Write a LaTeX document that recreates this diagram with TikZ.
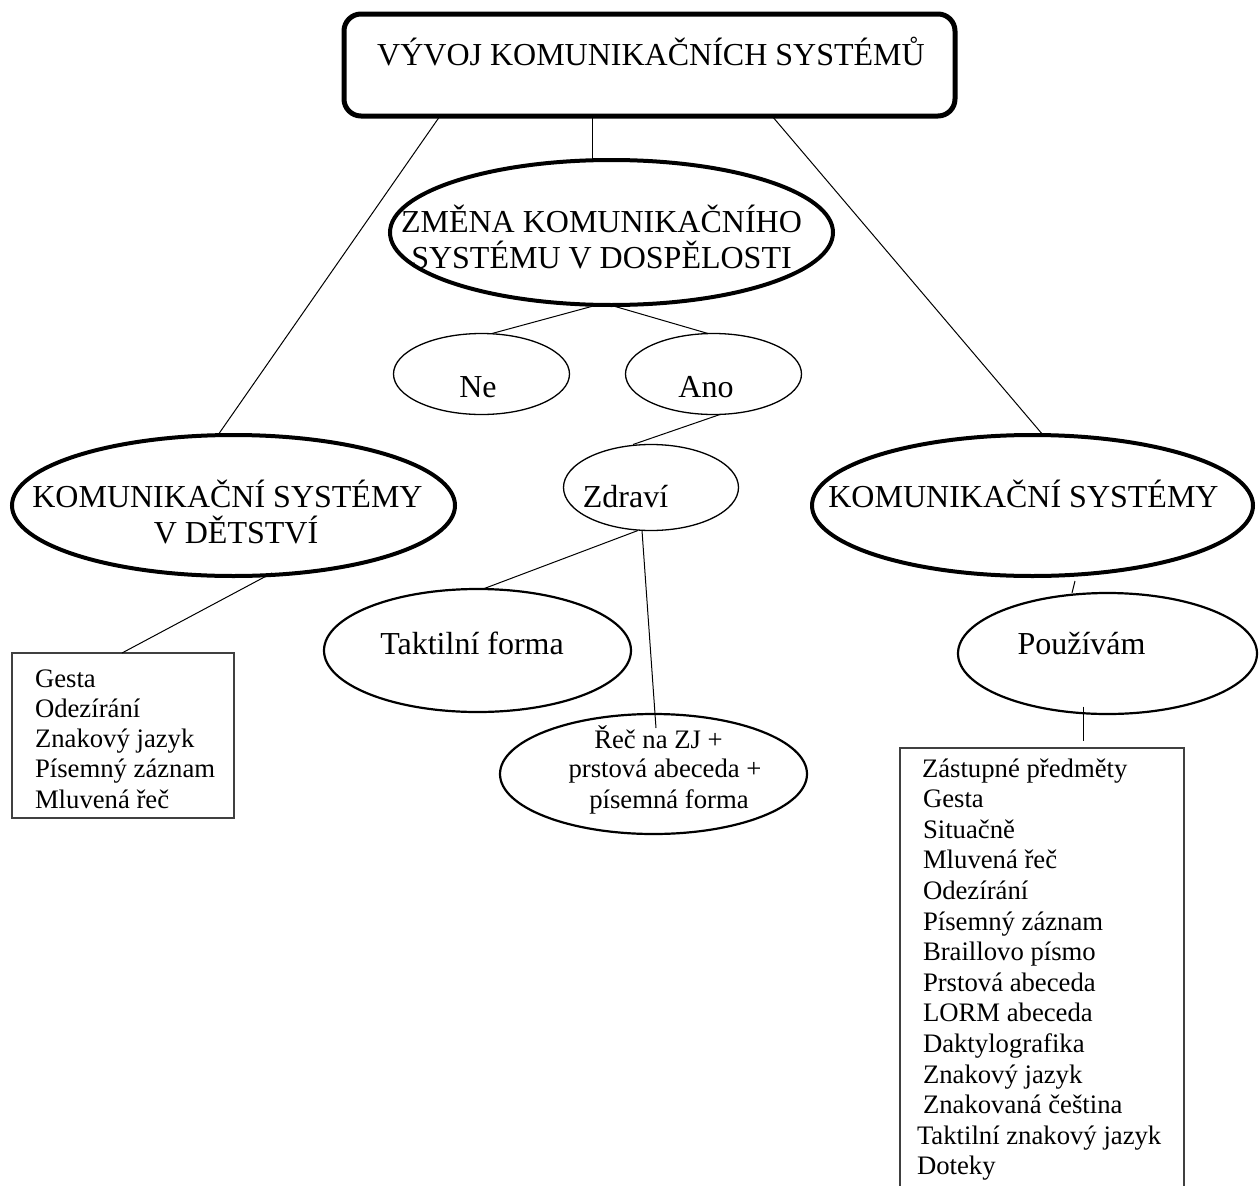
\documentclass[tikz,border=0pt]{standalone}
\usepackage{fontspec}
\setmainfont{Liberation Serif}
\usetikzlibrary{shapes.geometric}

\tikzset{
  every node/.style={outer sep=0pt},
  conn/.style={line width=1pt, black},
  titlebox/.style={draw, line width=5pt, rounded corners=17pt, inner sep=0pt},
  bigell/.style={ellipse, draw, line width=4pt, inner sep=0pt},
  midell/.style={ellipse, draw, line width=2.2pt, inner sep=0pt},
  smallell/.style={ellipse, draw, line width=1.3pt, inner sep=0pt},
  bigtxt/.style={font=\fontsize{32}{36}\selectfont, anchor=base, inner sep=0pt},
  smalltxt/.style={font=\fontsize{26.7}{30.5}\selectfont, anchor=base, inner sep=0pt},
  listbox/.style={draw=black!75, line width=1.3pt, anchor=north west, inner sep=0pt},
  listtxt/.style={font=\fontsize{26.7}{30.5}\selectfont, anchor=base west, inner sep=0pt}
}

\begin{document}
\begin{tikzpicture}[x=1pt, y=-1pt]
\useasboundingbox (0,0) rectangle (1259,1186);
\clip (0,0) rectangle (1259,1186);

% title
\node[titlebox, minimum width=611pt, minimum height=102pt] (top) at (649.5,65) {};
\node[bigtxt] (toptxt) at (651,65) {VÝVOJ KOMUNIKAČNÍCH SYSTÉMŮ};

% change of the communication system in adulthood
\node[bigell, minimum width=443pt, minimum height=145pt] (zm) at (611.5,232.5) {};
\node[bigtxt] (zmtxta) at (601.5,232) {ZMĚNA KOMUNIKAČNÍHO};
\node[bigtxt] (zmtxtb) at (601.5,268) {SYSTÉMU V DOSPĚLOSTI};

\node[smallell, minimum width=176pt, minimum height=81pt] (ne) at (481.5,374) {};
\node[bigtxt] (netxt) at (478,397) {Ne};
\node[smallell, minimum width=176pt, minimum height=81pt] (ano) at (713.5,374) {};
\node[bigtxt] (anotxt) at (706,397) {Ano};

\node[smallell, minimum width=175pt, minimum height=86pt] (zd) at (651,487.5) {};
\node[bigtxt] (zdtxt) at (625.5,507) {Zdraví};

\node[midell, minimum width=307pt, minimum height=123pt] (tf) at (477.5,650.5) {};
\node[bigtxt] (tftxt) at (472,654) {Taktilní forma};

\node[midell, minimum width=307pt, minimum height=120pt] (rec) at (653.5,774) {};
\node[smalltxt] (rectxta) at (658.5,748) {Řeč na ZJ +};
\node[smalltxt] (rectxtb) at (665,777) {prstová abeceda +};
\node[smalltxt] (rectxtc) at (669,808) {písemná forma};

% childhood
\node[bigell, minimum width=443pt, minimum height=141pt] (kl) at (233.5,505.5) {};
\node[bigtxt] (kltxta) at (227.5,507) {KOMUNIKAČNÍ SYSTÉMY};
\node[bigtxt] (kltxtb) at (236,543) {V DĚTSTVÍ};

\node[listbox, minimum width=222pt, minimum height=165pt] (lb) at (12,653) {};
\foreach \t [count=\i from 0] in {Gesta, Odezírání, Znakový jazyk, Písemný záznam, Mluvená řeč}
  \node[listtxt] (lt\i) at (35,687+30.25*\i) {\t};

% systems in use
\node[bigell, minimum width=441pt, minimum height=141pt] (kr) at (1032.5,505.5) {};
\node[bigtxt] (krtxt) at (1023.5,507) {KOMUNIKAČNÍ SYSTÉMY};

\node[midell, minimum width=299pt, minimum height=121pt] (pu) at (1107.5,653.5) {};
\node[bigtxt] (putxt) at (1081.5,654) {Používám};

\node[listbox, minimum width=284pt, minimum height=460pt] (rb) at (900,748) {};
\foreach \x/\t [count=\i from 0] in {922/Zástupné předměty, 923/Gesta, 923/Situačně,
    923/Mluvená řeč, 923/Odezírání, 923/Písemný záznam, 923/Braillovo písmo,
    923/Prstová abeceda, 923/LORM abeceda, 923/Daktylografika, 923/Znakový jazyk,
    923/Znakovaná čeština, 917/Taktilní znakový jazyk, 917/Doteky}
  \node[listtxt] (rt\i) at (\x,777+30.6*\i) {\t};

% connectors
\draw[conn] ([xshift=-209.5pt]top.south) -- ([xshift=-15.5pt]kl.north);
\draw[conn] ([xshift=-57.5pt]top.south) -- ([xshift=-57.5pt]top.south |- zm.north);
\draw[conn] ([xshift=122.5pt]top.south) -- ([xshift=10.5pt]kr.north);

\draw[conn] ([xshift=-14.5pt]zm.south) -- ([xshift=10.5pt]ne.north);
\draw[conn] ([xshift=-1.5pt]zm.south) -- ([xshift=-5.5pt]ano.north);
\draw[conn] ([xshift=6.5pt]ano.south) -- ([xshift=-18pt]zd.north);
\draw[conn] ([xshift=-13pt]zd.south) -- ([xshift=5.5pt]tf.north);
\draw[conn] ([xshift=-9pt]zd.south) -- ([xshift=2.5pt,yshift=-14pt]rec.north);

\draw[conn] ([xshift=38.5pt,yshift=3pt]kl.south) -- ([xshift=-1pt]lb.north);
\draw[conn] ([xshift=42.5pt,yshift=-5pt]kr.south) -- ([xshift=-35.5pt]pu.north);
\draw[conn] ([xshift=-24.5pt,yshift=7.5pt]pu.south) -- ([xshift=-24.5pt,yshift=7.5pt]pu.south |- rb.north);
\end{tikzpicture}
\end{document}
